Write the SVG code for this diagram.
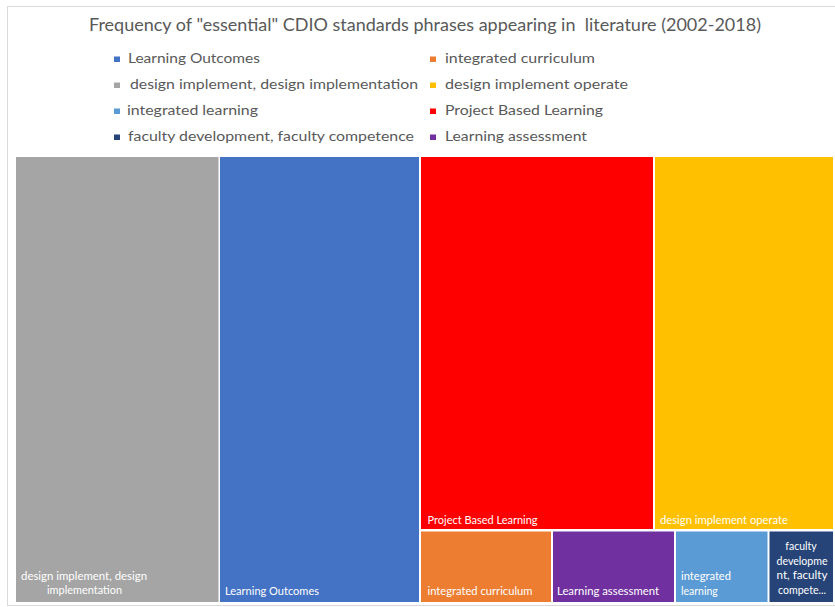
<svg xmlns="http://www.w3.org/2000/svg" width="835" height="607" viewBox="0 0 835 607">
<style>
.t{font-family:Lato,"Open Sans","Liberation Sans",sans-serif;fill:#595959}
.title{font-size:16.5px}
.lg{font-size:13.5px}
.lb{font-family:Lato,"Open Sans","Liberation Sans",sans-serif;font-size:10.5px;fill:#ffffff}
</style>
<rect width="835" height="607" fill="#ffffff"/>
<rect x="7.5" y="6.5" width="840" height="599" fill="#ffffff" stroke="#d9d9d9" stroke-width="1"/>
<text class="t title" x="89" y="31" textLength="672" lengthAdjust="spacingAndGlyphs" xml:space="preserve">Frequency of "essential" CDIO standards phrases appearing in  literature (2002-2018)</text>
<g id="legend">
<rect x="114" y="56.5" width="6" height="5.5" fill="#4472C4"/><text class="t lg" x="128" y="63" textLength="132" lengthAdjust="spacingAndGlyphs">Learning Outcomes</text>
<rect x="114" y="82.5" width="6" height="5.5" fill="#A5A5A5"/><text class="t lg" x="130" y="89" textLength="288" lengthAdjust="spacingAndGlyphs">design implement, design implementation</text>
<rect x="114" y="108.5" width="6" height="5.5" fill="#5B9BD5"/><text class="t lg" x="127" y="114.5" textLength="131" lengthAdjust="spacingAndGlyphs">integrated learning</text>
<rect x="114" y="134.5" width="6" height="5.5" fill="#264478"/><text class="t lg" x="128" y="140.5" textLength="286" lengthAdjust="spacingAndGlyphs">faculty development, faculty competence</text>
<rect x="430" y="56.5" width="6" height="5.5" fill="#ED7D31"/><text class="t lg" x="445" y="63" textLength="150" lengthAdjust="spacingAndGlyphs">integrated curriculum</text>
<rect x="430" y="82.5" width="6" height="5.5" fill="#FFC000"/><text class="t lg" x="445" y="89" textLength="183" lengthAdjust="spacingAndGlyphs">design implement operate</text>
<rect x="430" y="108.5" width="6" height="5.5" fill="#FF0000"/><text class="t lg" x="445" y="114.5" textLength="158" lengthAdjust="spacingAndGlyphs">Project Based Learning</text>
<rect x="430" y="134.5" width="6" height="5.5" fill="#7030A0"/><text class="t lg" x="445" y="140.5" textLength="142" lengthAdjust="spacingAndGlyphs">Learning assessment</text>
</g>
<g id="n-design-impl">
<rect x="16" y="157" width="202.5" height="445" fill="#A5A5A5"/>
<text class="lb" x="84" y="580" text-anchor="middle" textLength="126" lengthAdjust="spacingAndGlyphs">design implement, design</text>
<text class="lb" x="84.5" y="594" text-anchor="middle" textLength="75" lengthAdjust="spacingAndGlyphs">implementation</text>
</g>
<g id="n-learning-outcomes">
<rect x="220" y="157" width="199" height="445" fill="#4472C4"/>
<text class="lb" x="225" y="595" textLength="94" lengthAdjust="spacingAndGlyphs">Learning Outcomes</text>
</g>
<g id="n-pbl">
<rect x="421" y="157" width="232" height="372" fill="#FF0000"/>
<text class="lb" x="427.5" y="524" textLength="110" lengthAdjust="spacingAndGlyphs">Project Based Learning</text>
</g>
<g id="n-dio">
<rect x="655" y="157" width="178" height="372" fill="#FFC000"/>
<text class="lb" x="660" y="524" textLength="128" lengthAdjust="spacingAndGlyphs">design implement operate</text>
</g>
<g id="n-int-curr">
<rect x="421" y="531.5" width="130" height="70.5" fill="#ED7D31"/>
<text class="lb" x="427.5" y="595" textLength="105" lengthAdjust="spacingAndGlyphs">integrated curriculum</text>
</g>
<g id="n-learn-assess">
<rect x="553" y="531.5" width="121" height="70.5" fill="#7030A0"/>
<text class="lb" x="557" y="595" textLength="102" lengthAdjust="spacingAndGlyphs">Learning assessment</text>
</g>
<g id="n-int-learn">
<rect x="676" y="531.5" width="91.5" height="70.5" fill="#5B9BD5"/>
<text class="lb" x="681" y="580" textLength="50" lengthAdjust="spacingAndGlyphs">integrated</text>
<text class="lb" x="681" y="594.5">learning</text>
</g>
<g id="n-faculty">
<rect x="769.5" y="531.5" width="63.5" height="70.5" fill="#264478"/>
<text class="lb" x="801" y="550" text-anchor="middle">faculty</text>
<text class="lb" x="802" y="564.5" text-anchor="middle" textLength="51" lengthAdjust="spacingAndGlyphs">developme</text>
<text class="lb" x="802" y="579" text-anchor="middle" textLength="51" lengthAdjust="spacingAndGlyphs">nt, faculty</text>
<text class="lb" x="802" y="593.5" text-anchor="middle" textLength="48" lengthAdjust="spacingAndGlyphs">compete...</text>
</g>
<g id="connectors"></g>
</svg>
